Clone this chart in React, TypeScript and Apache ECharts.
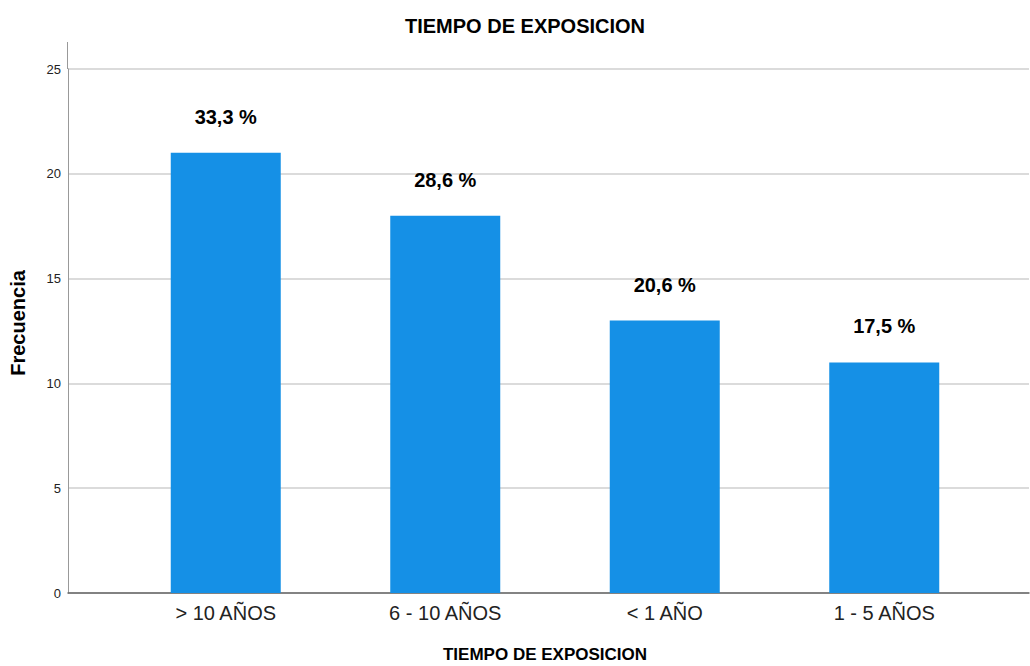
import React, { useEffect, useRef } from "react";
import * as echarts from "echarts";

const categories = ["> 10 AÑOS", "6 - 10 AÑOS", "< 1 AÑO", "1 - 5 AÑOS"];
const frequencies = [21, 18, 13, 11];
const percentLabels = ["33,3 %", "28,6 %", "20,6 %", "17,5 %"];
const yTicks = [0, 5, 10, 15, 20, 25];

const FONT = "'Liberation Sans', Arial, sans-serif";

export default function App() {
  const ref = useRef<HTMLDivElement>(null);
  useEffect(() => {
    if (!ref.current) return;
    const chart = echarts.init(ref.current, undefined, { renderer: "svg" });
    const yMax = yTicks[yTicks.length - 1];
    chart.setOption({
      animation: false,
      backgroundColor: "#ffffff",
      title: [
        {
          text: "TIEMPO DE EXPOSICION",
          left: 520,
          top: 11,
          textAlign: "center",
          textStyle: { fontFamily: FONT, fontSize: 20, fontWeight: "bold", color: "#000" },
        },
        {
          text: "TIEMPO DE EXPOSICION",
          left: 545,
          top: 645,
          padding: 0,
          textAlign: "center",
          textStyle: { fontFamily: FONT, fontSize: 17, fontWeight: "bold", color: "#000", lineHeight: 18 },
        },
      ],
      graphic: [
        {
          type: "line",
          shape: { x1: 67.5, y1: 42, x2: 67.5, y2: 69 },
          style: { stroke: "#999", lineWidth: 1 },
        },
        {
          type: "text",
          x: 18,
          y: 323,
          rotation: Math.PI / 2,
          style: {
            text: "Frecuencia",
            font: `bold 20px ${FONT}`,
            fill: "#000",
            align: "center",
            verticalAlign: "middle",
          },
        },
      ],
      grid: [
        { left: 68, right: 1, top: 69, bottom: 73 },
        { left: 116, right: 36, top: 69, bottom: 73 },
      ],
      xAxis: [
        {
          gridIndex: 0,
          type: "value",
          min: 0,
          max: 1,
          axisLine: { show: true, onZero: false, lineStyle: { color: "#666", width: 1.5 } },
          axisTick: { show: false },
          axisLabel: { show: false },
          splitLine: { show: false },
        },
        {
          gridIndex: 1,
          type: "category",
          data: categories,
          axisLine: { show: false },
          axisTick: { show: false },
          axisLabel: { margin: 10, fontFamily: FONT, fontSize: 20, color: "#222" },
        },
      ],
      yAxis: [
        {
          gridIndex: 0,
          type: "value",
          min: 0,
          max: yMax,
          interval: 5,
          axisLine: { show: true, lineStyle: { color: "#999", width: 1 } },
          axisTick: { show: false },
          axisLabel: { margin: 7, fontFamily: FONT, fontSize: 13, color: "#222" },
          splitLine: { show: true, lineStyle: { color: "#cfcfcf", width: 1.5 } },
        },
        {
          gridIndex: 1,
          type: "value",
          min: 0,
          max: yMax,
          show: false,
        },
      ],
      series: [
        {
          type: "bar",
          xAxisIndex: 1,
          yAxisIndex: 1,
          data: frequencies,
          barWidth: 110,
          itemStyle: { color: "#1590e6" },
          label: {
            show: true,
            position: "top",
            distance: 26,
            formatter: (p: any) => percentLabels[p.dataIndex],
            fontFamily: FONT,
            fontSize: 20,
            fontWeight: "bold",
            color: "#000",
          },
        },
      ],
    });
    return () => chart.dispose();
  }, []);
  return <div ref={ref} style={{ width: 1030, height: 666, position: "absolute", left: 0, top: 0 }} />;
}
